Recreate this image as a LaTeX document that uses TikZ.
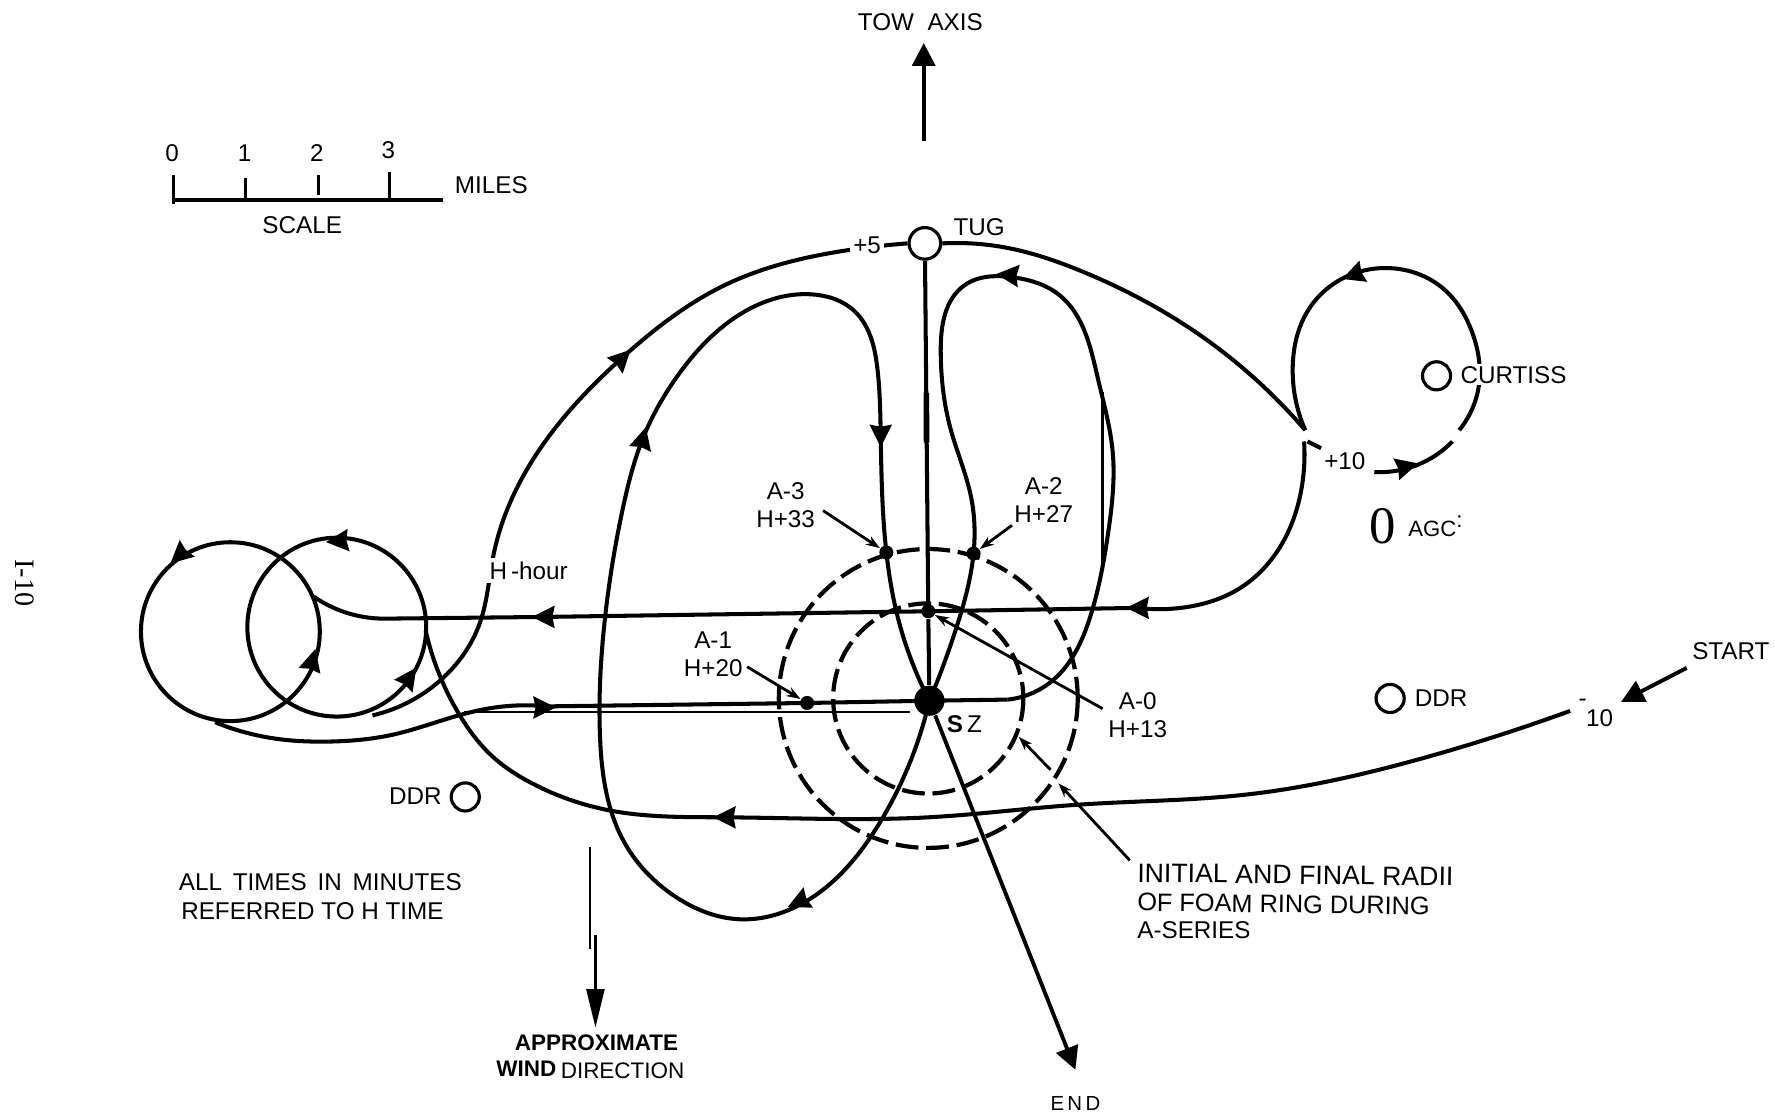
\documentclass[tikz,border=0pt]{standalone}
\usepackage{fontspec}
\setmainfont{Liberation Sans}
\newfontfamily\serifface{Liberation Serif}
\usetikzlibrary{arrows.meta,hobby}
\tikzset{
  track/.style={line width=1.15pt,line join=round,use Hobby shortcut},
  thinline/.style={line width=0.8pt},
  ring/.style={line width=1.2pt,dash pattern=on 6.5pt off 2.2pt},
  bigarrow/.style={line width=1.1pt,-{Triangle[length=6.5pt,width=6.5pt]}},
  pointer/.style={line width=0.8pt,-{Stealth[length=4pt,width=2.8pt]}},
  vessel/.style={circle,draw,line width=0.9pt,minimum size=8pt,inner sep=0pt},
  station/.style={circle,fill=black,minimum size=4pt,inner sep=0pt},
  lbl/.style={font=\fontsize{6.9}{8}\selectfont,inner sep=1pt,align=center},
  gaplbl/.style={lbl,fill=white},
  heavy/.style={lbl,font=\fontsize{6.4}{8}\selectfont\bfseries},
  flowtip/.pic={\fill (10,0) -- (-10,10) -- (-8,0) -- (-10,-10) -- cycle;}
}
\begin{document}
\begin{tikzpicture}[x=0.1132mm,y=-0.1132mm]
\useasboundingbox (0,0) rectangle (1568,986);

% Scale bar
\coordinate (scaleleft) at (153,177);
\coordinate (scaleright) at (391,177);
\draw[line width=1.2pt] (scaleleft) -- (scaleright);
\foreach \x/\top/\bot/\num/\ny in {153/155/180/0/135, 217/157/177/1/135, 281/155/172/2/135, 344/152/177/3/133} {
    \draw[line width=0.9pt] (\x,\top) -- (\x,\bot);
    \node[lbl] at (\x-1,\ny) {\num};
}
\node[lbl] (miles) at (434,164) {MILES};
\node[lbl] (scale) at (267,199) {SCALE};

% Tow axis
\node[lbl] (towaxis) at (813,20) {TOW\ \ AXIS};
\coordinate (towtail) at (816,125);
\coordinate (towhead) at (816,38);
\draw[bigarrow] (towtail) -- (towhead);

% Vessels and stations
\node[vessel,minimum width=8.2pt,minimum height=9pt] (tug) at (817,215) {};
\node[vessel] (curtiss) at (1269,332) {};
\node[vessel] (ddreast) at (1228,617) {};
\node[vessel] (ddrwest) at (411,704) {};
\node[circle,fill=black,minimum size=8.6pt,inner sep=0pt] (sz) at (821,619) {};
\node[station] (athree) at (783,488) {};
\node[station] (atwo) at (860,489) {};
\node[station] (azero) at (820,540) {};
\node[station] (aone) at (713,621) {};

% Foam rings
\coordinate (ringcentre) at (820,617);
\draw[ring] (ringcentre) circle (132);
\draw[ring] (ringcentre) circle (84);

% Turning circles
\draw[line width=1.15pt] (203.5,558) circle (79);
\draw[line width=1.15pt] (297.5,554) circle (79);

% Approach from the start
\coordinate (minusten) at (1387,628);
\draw[track] (minusten) .. (1256,670) .. (1100,702) .. (950,711) .. (820,722) .. (640,722) .. (539,716) .. (470,692) .. (437,670) .. (405,630) .. (376,557);

% Outbound through H-hour, tug and on to the upper circle
\coordinate (plusten) at (1153,380);
\draw[track] (329,632) .. (389,601) .. (424,550) .. (436,490) .. (489,380) .. (553,313) .. (640,252) .. (749,221) .. (tug.west);
\draw[track] (tug.east) .. (890,219) .. (954,239) .. (1060,296) .. (plusten);
\draw[track] (plusten) .. (1142,322) .. (1155,275) .. (1190,244) .. (1230,237) .. (1275,255) .. (1301,295) .. (1307,335) .. (1289,380);
\draw[track] (1283,390) .. (1256,409) .. (1214,417);

% Return run
\draw[track] (1152,390) .. (1150,430) .. (1129,486) .. (1093,521) .. (1050,536) .. (1005,537);
\draw[line width=1.15pt] (1005,537) -- (azero.center) -- (480,545) -- (340,546.5);
\draw[track] (340,546.5) .. (312,543) .. (277,527);
\draw[line width=1.15pt] (1155,390) -- (1167,396);

% Pass through A-1 into SZ
\draw[track] (190,638) .. (240,652) .. (294,655) .. (347,649) .. (405,632) .. (437,625) .. (483,624);
\draw[line width=1.15pt] (483,624) -- (aone.center) -- (sz.center);
\coordinate (dblleft) at (410,629);
\coordinate (dblright) at (804,629);
\draw[thinline] (dblleft) -- (dblright);

% A-2 loop
\draw[line width=1.15pt] (sz.center) -- (890,618);
\draw[track] (890,618) .. (930,601) .. (963,545) .. (979,470) .. (983,400) .. (970,335) .. (935,260) .. (895,245) .. (852,252) .. (831,310) .. (840,380) .. (858,440) .. (atwo.center) .. (845,554) .. (sz.center);
\coordinate (thintop) at (974,346);
\coordinate (thinbot) at (974,500);
\draw[line width=1pt] (thintop) -- (thinbot);

% A-3 loop
\draw[track] (sz.center) .. (777,727) .. (707,799) .. (652,812) .. (598,793) .. (552,745) .. (530,650) .. (533,560) .. (550,450) .. (568,387) .. (600,330) .. (650,280) .. (717,260) .. (755,275) .. (775,325) .. (778,385) .. (athree.center) .. (793,545) .. (sz.center);

% Tug line and run out to the end
\draw[line width=1.15pt] (tug) -- (azero) -- (sz);
\coordinate (towthicka) at (818.3,347);
\coordinate (towthickb) at (818.5,391);
\draw[line width=1.6pt] (towthicka) -- (towthickb);
\coordinate (endtip) at (950,945);
\draw[bigarrow] (sz) -- (endtip);

% Flow arrows
\foreach \x/\y/\a in {158/491/222, 298/478/185, 276/583/75, 362/598/55, 480/545/180, 1005/537/180, 481/625/0, 550/316/45, 568/387/75, 778/385/-90, 890/243/175, 1195/243/200, 1243/412/15, 705/797/205, 640/722/180} {
    \pic[rotate=\a] at (\x,\y) {flowtip};
}

% Pointers
\coordinate (athreefrom) at (727,451);
\coordinate (atwofrom) at (894,464);
\coordinate (azerofrom) at (974,626);
\coordinate (aonefrom) at (660,589);
\draw[pointer] (athreefrom) -- (athree);
\draw[pointer] (atwofrom) -- (atwo);
\draw[pointer] (azerofrom) -- (azero);
\draw[pointer] (aonefrom) -- (aone);
\coordinate (initfrom) at (998,760);
\coordinate (initto) at (935,692);
\coordinate (initgap) at (928,680);
\coordinate (initin) at (900,651);
\draw[pointer] (initfrom) -- (initto);
\draw[pointer] (initgap) -- (initin);

% Start and wind arrows
\coordinate (startfrom) at (1490,590);
\coordinate (startto) at (1432,620);
\draw[bigarrow] (startfrom) -- (startto);
\coordinate (windthin) at (521,748);
\coordinate (windthinend) at (521,838);
\coordinate (windfrom) at (526,826);
\coordinate (windto) at (526,908);
\draw[line width=0.7pt] (windthin) -- (windthinend);
\draw[line width=1pt,-{Triangle[length=11pt,width=5pt]}] (windfrom) -- (windto);

% Labels
\node[lbl] (tugl) at (865,201) {TUG};
\node[gaplbl] (pfive) at (766,217) {+5};
\node[gaplbl] (pten) at (1188,407) {+10};
\node[gaplbl] (hhour) at (467,504) {H\,-hour};
\node[gaplbl,anchor=west,inner sep=0.5pt] (curtissl) at (1288,331) {CURTISS};
\node[lbl] (ddrwestl) at (367,703) {DDR};
\node[lbl] (ddreastl) at (1273,617) {DDR};
\node[lbl,font=\fontsize{15}{15}\serifface\selectfont] (agcring) at (1221,465) {0};
\node[lbl,font=\fontsize{6.3}{8}\selectfont] (agc) at (1268,465) {AGC\raisebox{2.5pt}{:}};
\node[lbl] (start) at (1529,575) {START};
\node[lbl] (tendash) at (1398,621) {-};
\node[lbl] (ten) at (1413,634) {10};
\node[lbl,font=\fontsize{5.8}{7}\selectfont] (endl) at (950,975) {E\,N\,D};
\node[lbl] (sezl) at (852,640) {\textbf{S}\,Z};
\node[lbl] (athreel) at (694,446) {A-3\\H+33};
\node[lbl] (atwol) at (922,442) {A-2\\H+27};
\node[lbl] (aonel) at (630,578) {A-1\\H+20};
\node[lbl] (azerol) at (1005,632) {A-0\\H+13};
\node[lbl,rotate=-90,font=\fontsize{8}{9}\serifface\selectfont] (page) at (22,515) {I-10};
\node[lbl] (times) at (283,779) {ALL\ \,TIMES\ \,IN\ \,MINUTES};
\node[lbl] (timesb) at (276,805) {REFERRED TO H TIME};
\node[heavy] (approx) at (527,921) {APPROXIMATE};
\node[heavy] (wind) at (465,944) {WIND};
\node[lbl,font=\fontsize{6.4}{8}\selectfont] (direction) at (550,946) {DIRECTION};
\node[lbl,anchor=west,rotate=-0.7,font=\fontsize{7.6}{9}\selectfont] (initone) at (1001,771) {INITIAL AND FINAL RADII};
\node[lbl,anchor=west,rotate=-0.7,font=\fontsize{7.2}{9}\selectfont] (inittwo) at (1001,797) {OF FOAM RING DURING};
\node[lbl,anchor=west] (initthree) at (1001,822) {A-SERIES};
\end{tikzpicture}
\end{document}
